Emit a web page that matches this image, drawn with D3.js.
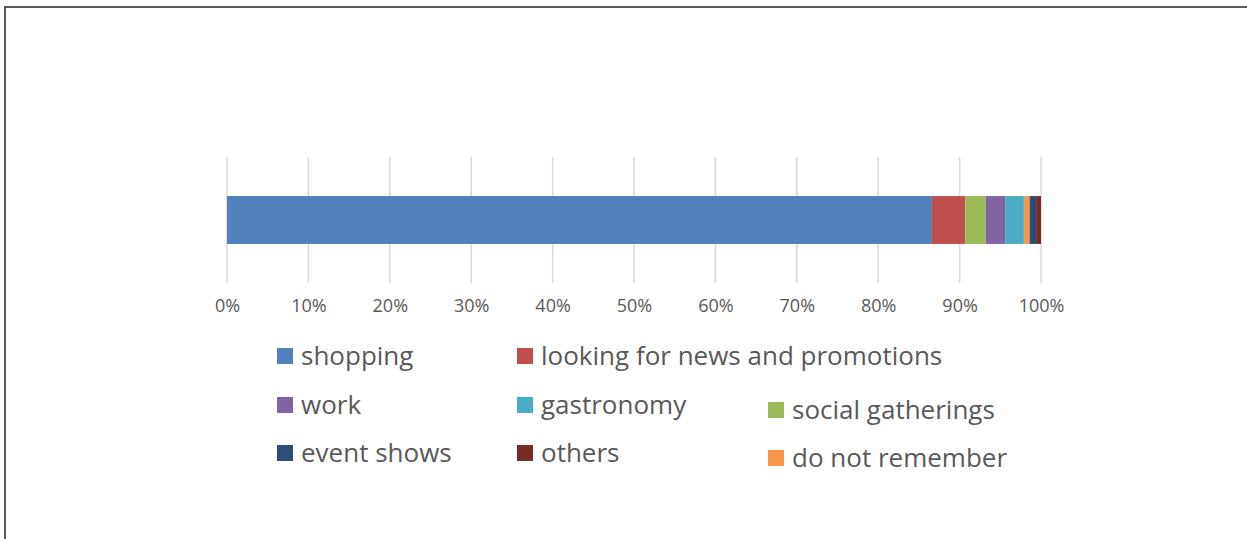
<!DOCTYPE html>
<html>
<head>
<meta charset="utf-8">
<script src="https://cdn.jsdelivr.net/npm/d3@7"></script>
<style>
  body { margin: 0; background: #fff; }
  svg text { font-family: "Open Sans", sans-serif; fill: #595959; }
</style>
</head>
<body>
<div id="chart"></div>
<script>
// bar segments, in stacking order (left to right)
var categories = ["shopping", "looking for news and promotions", "social gatherings", "work",
                  "gastronomy", "do not remember", "event shows", "others"];
var values = [86.6, 4.1, 2.5, 2.4, 2.3, 0.7, 0.8, 0.6];
var colors = ["#4f81bd", "#c0504d", "#9bbb59", "#8064a2", "#4bacc6", "#f79646", "#2c4d75", "#772c2a"];
var ticks = [0, 10, 20, 30, 40, 50, 60, 70, 80, 90, 100];

// legend grid as it appears in the picture (column, row)
var legendOrder = [
  ["shopping", 0, 0], ["looking for news and promotions", 1, 0],
  ["work", 0, 1], ["gastronomy", 1, 1], ["social gatherings", 2, 1],
  ["event shows", 0, 2], ["others", 1, 2], ["do not remember", 2, 2]
];

var width = 1247, height = 539;

var svg = d3.select("#chart").append("svg")
    .attr("width", width)
    .attr("height", height);

// frame (only top and left edges visible)
svg.append("path")
    .attr("d", "M5,539 V7 H1247")
    .attr("fill", "none")
    .attr("stroke", "#595959")
    .attr("stroke-width", 2);

var x = d3.scaleLinear()
    .domain([0, 100])
    .range([227, 1041]);

var y = d3.scaleBand()
    .domain(["visits"])
    .range([157, 283])
    .paddingInner(0.62)
    .paddingOuter(0.31);

var color = d3.scaleOrdinal()
    .domain(categories)
    .range(colors);

// gridlines
svg.append("g")
    .selectAll("line")
    .data(ticks)
    .join("line")
    .attr("x1", function(d) { return x(d); })
    .attr("x2", function(d) { return x(d); })
    .attr("y1", 157)
    .attr("y2", 283)
    .attr("stroke", "#d9d9d9")
    .attr("stroke-width", 1.5);

// stacked segments
var stacked = [];
var acc = 0;
categories.forEach(function(c, i) {
  stacked.push({ key: c, x0: acc, x1: acc + values[i] });
  acc += values[i];
});

svg.append("g")
    .selectAll("rect")
    .data(stacked)
    .join("rect")
    .attr("x", function(d) { return x(d.x0); })
    .attr("width", function(d) { return x(d.x1) - x(d.x0); })
    .attr("y", y("visits"))
    .attr("height", y.bandwidth())
    .attr("fill", function(d) { return color(d.key); });

// axis labels
var xAxis = d3.axisBottom(x)
    .tickValues(ticks)
    .tickSize(0)
    .tickPadding(16)
    .tickFormat(function(d) { return d + "%"; });

var gx = svg.append("g")
    .attr("transform", "translate(0,283)")
    .call(xAxis);
gx.select(".domain").remove();
gx.selectAll("text")
    .style("font-size", "18px")
    .attr("fill", "#666");

// legend
var colX = [277, 517, 768];
var rowY = [[356, 405, 453], [356, 405, 453], [356, 410, 458]];

var legend = svg.append("g")
    .selectAll("g")
    .data(legendOrder)
    .join("g")
    .attr("transform", function(d) {
      return "translate(" + colX[d[1]] + "," + rowY[d[1]][d[2]] + ")";
    });

legend.append("rect")
    .attr("x", 0)
    .attr("y", -8)
    .attr("width", 16)
    .attr("height", 16)
    .attr("fill", function(d) { return color(d[0]); });

legend.append("text")
    .attr("x", 24)
    .attr("dy", "0.35em")
    .style("font-size", "26px")
    .text(function(d) { return d[0]; });
</script>
</body>
</html>
